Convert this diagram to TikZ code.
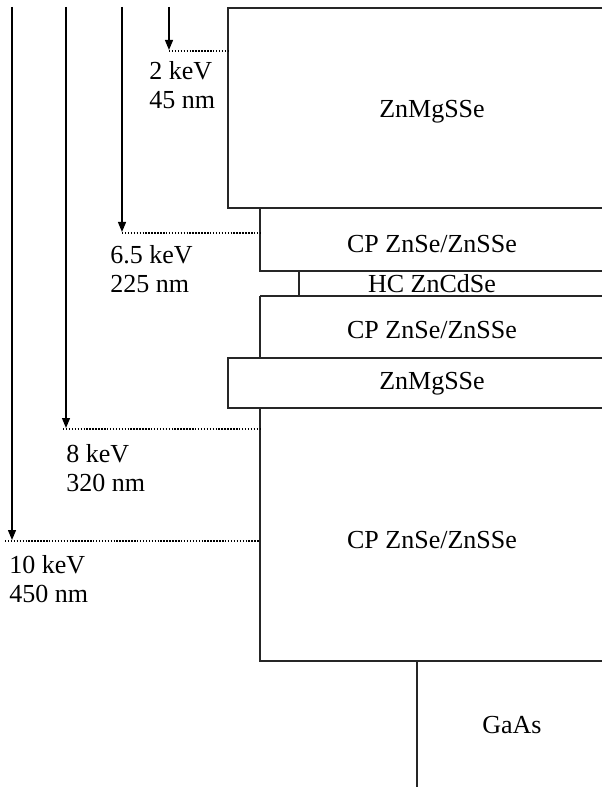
\documentclass[tikz,border=0pt]{standalone}
\usepackage{fontspec}
\setmainfont{Liberation Serif}
\usetikzlibrary{arrows.meta}
\begin{document}
\begin{tikzpicture}[x=0.75pt,y=-0.75pt,
  layer/.style={line width=1.5pt,line join=miter,black!85},
  probe/.style={line width=0.9pt,-{Triangle[length=7.5pt,width=6pt]}},
  depth/.style={line width=1.1pt,dash pattern=on 1.1pt off 1.1pt},
  lbl/.style={font=\fontsize{19.5pt}{23pt}\selectfont,inner sep=0pt,anchor=base},
  elbl/.style={font=\fontsize{19.5pt}{23pt}\selectfont,inner sep=0pt,anchor=base west}]
\useasboundingbox (0,0) rectangle (602,787);
% layers
\draw[layer] (602,8) -- (228,8) -- (228,208) -- (602,208);
\draw[layer] (260,208) -- (260,271) -- (602,271);
\draw[layer] (299,271) -- (299,296);
\draw[layer] (260,296) -- (602,296);
\draw[layer] (260,296) -- (260,358);
\draw[layer] (602,358) -- (228,358) -- (228,408) -- (602,408);
\draw[layer] (260,408) -- (260,661) -- (602,661);
\draw[layer] (417,661) -- (417,787);
% layer labels
\node[lbl] (l1) at (432,118) {ZnMgSSe};
\node[lbl] (l2) at (432,253) {CP ZnSe/ZnSSe};
\node[lbl] (l3) at (432,293) {HC ZnCdSe};
\node[lbl] (l4) at (432,339) {CP ZnSe/ZnSSe};
\node[lbl] (l5) at (432,389) {ZnMgSSe};
\node[lbl] (l6) at (432,548) {CP ZnSe/ZnSSe};
\node[lbl] (l7) at (512,733) {GaAs};
% probe coordinates
\coordinate (s1) at (169,7);   \coordinate (t1) at (169,50);
\coordinate (s2) at (122,7);   \coordinate (t2) at (122,232);
\coordinate (s3) at (66,7);    \coordinate (t3) at (66,428);
\coordinate (s4) at (12,7);    \coordinate (t4) at (12,540);
\coordinate (d1a) at (169,51);  \coordinate (d1b) at (228,51);
\coordinate (d2a) at (122,233); \coordinate (d2b) at (260,233);
\coordinate (d3a) at (63,429);  \coordinate (d3b) at (260,429);
\coordinate (d4a) at (5,541);   \coordinate (d4b) at (260,541);
\draw[probe] (s1) -- (t1);
\draw[probe] (s2) -- (t2);
\draw[probe] (s3) -- (t3);
\draw[probe] (s4) -- (t4);
\draw[depth] (d1a) -- (d1b);
\draw[depth] (d2a) -- (d2b);
\draw[depth] (d3a) -- (d3b);
\draw[depth] (d4a) -- (d4b);
% energy / depth labels
\node[elbl] (e1a) at (149,80) {2 keV};
\node[elbl] (e1b) at (149,109) {45 nm};
\node[elbl] (e2a) at (110,264) {6.5 keV};
\node[elbl] (e2b) at (110,293) {225 nm};
\node[elbl] (e3a) at (66,462) {8 keV};
\node[elbl] (e3b) at (66,491) {320 nm};
\node[elbl] (e4a) at (9,573) {10 keV};
\node[elbl] (e4b) at (9,602) {450 nm};
\end{tikzpicture}
\end{document}
